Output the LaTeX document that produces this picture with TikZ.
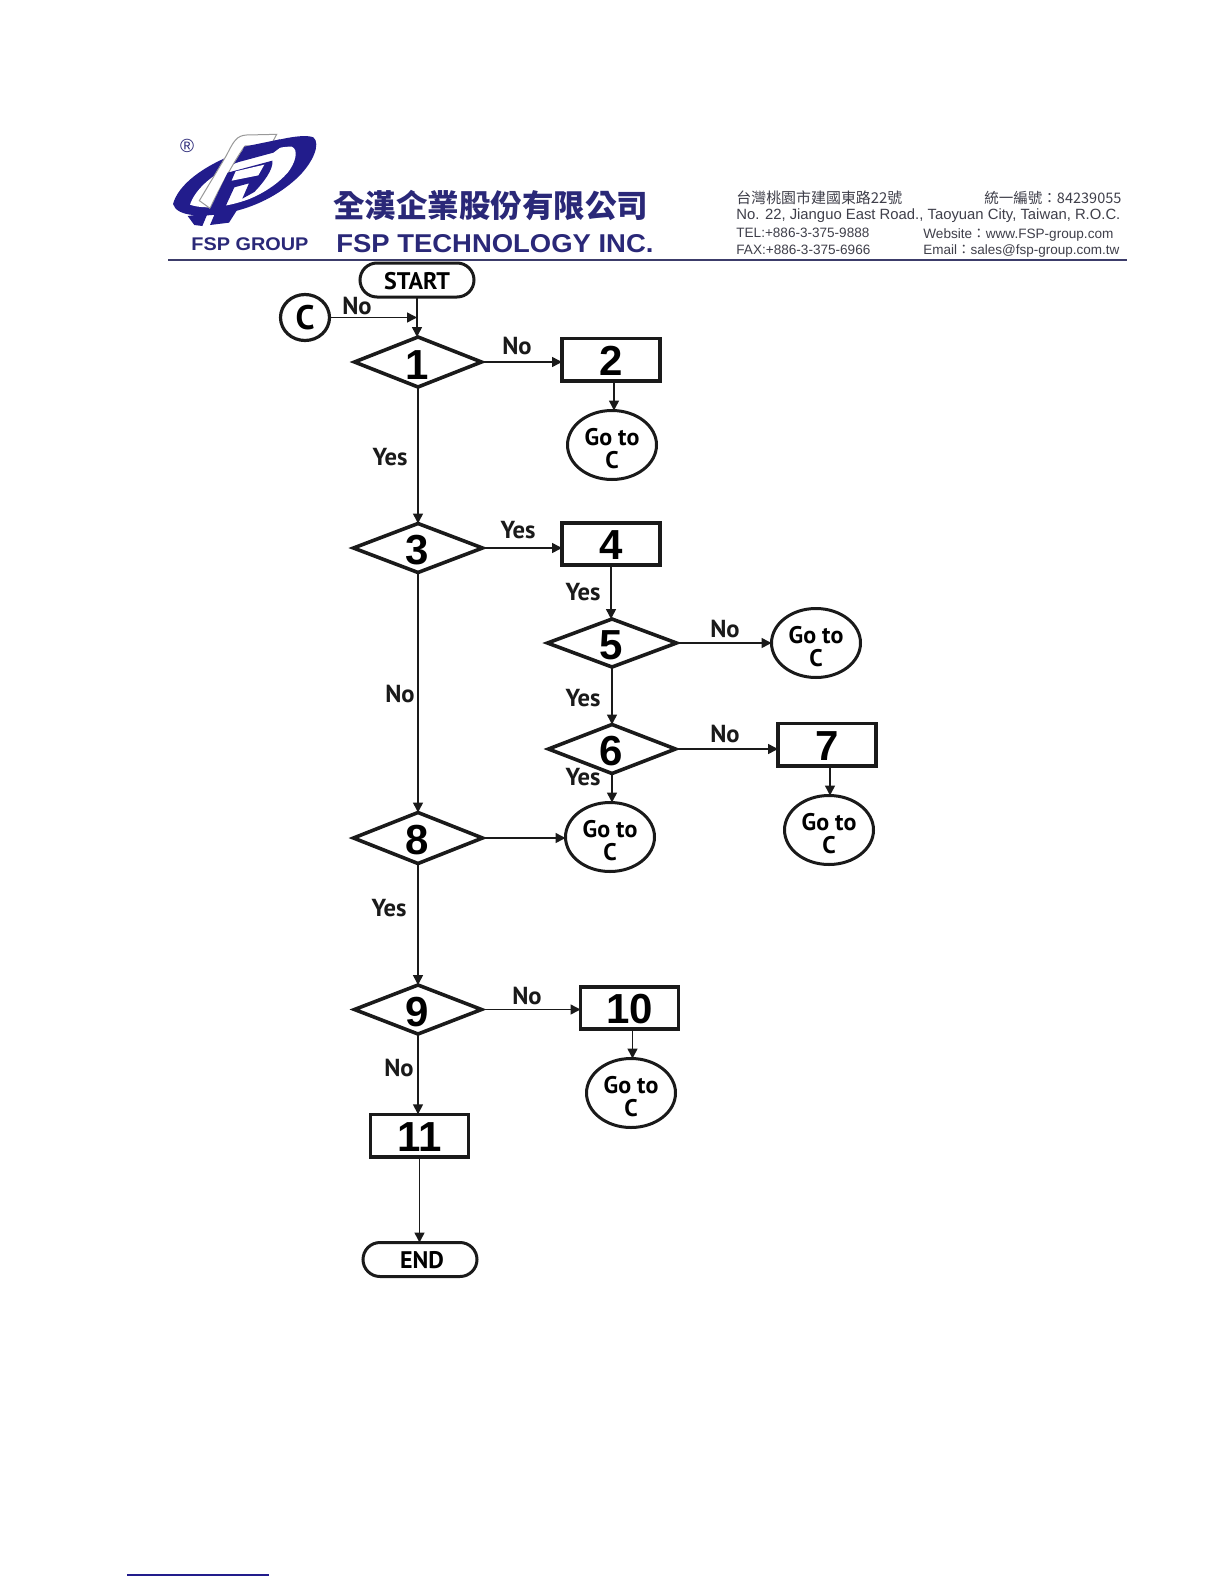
\documentclass[tikz,border=0pt]{standalone}
\usepackage{fontspec}
\usepackage{graphicx}
\setmainfont{Liberation Sans}
\newfontfamily\flowfont{PT Sans}
\newfontfamily\numfont{Liberation Sans}
\newfontfamily\cjkfont{Noto Sans CJK TC}
\usetikzlibrary{shapes.geometric,shapes.misc,arrows.meta,calc}
\definecolor{fspblue}{HTML}{221C8C}
\definecolor{fspnavy}{HTML}{2A2878}
\definecolor{addrgray}{HTML}{3F3F4A}
\definecolor{rulegray}{HTML}{3C3C6A}
\definecolor{inkblack}{HTML}{1A1A1A}
\newcommand{\gotoc}{\rule{0pt}{12.5pt}Go to\\C}
\tikzset{
  decisionbox/.style={diamond,draw=inkblack,line width=1.8pt,inner sep=0pt,outer sep=0pt,aspect=2.6,text height=17pt,font=\numfont\bfseries\fontsize{21}{21}\selectfont},
  procbox/.style={rectangle,draw=inkblack,line width=1.8pt,inner sep=0pt,outer sep=0pt,minimum width=49pt,minimum height=21.2pt,text height=15.8pt,font=\numfont\bfseries\fontsize{21}{21}\selectfont},
  gotobox/.style={ellipse,draw=inkblack,line width=1.5pt,inner sep=0pt,outer sep=0pt,minimum width=44.5pt,minimum height=34.5pt,align=center,font=\flowfont\bfseries\fontsize{12}{11.5}\selectfont},
  termbox/.style={rounded rectangle,draw=inkblack,line width=1.5pt,inner sep=0pt,outer sep=0pt,minimum width=57pt,minimum height=17pt,text height=9.5pt,font=\flowfont\bfseries\fontsize{12}{12}\selectfont},
  flowlabel/.style={inner sep=0pt,yshift=0.6pt,text=inkblack,font=\flowfont\bfseries\fontsize{12.3}{12.3}\selectfont},
  conn/.style={draw=inkblack,line width=0.75pt,-{Triangle[length=5pt,width=5pt]}},
  addr/.style={inner sep=0pt,text=addrgray,anchor=base west},
  brand/.style={inner sep=0pt,text=fspnavy,anchor=west},
}
\begin{document}
\begin{tikzpicture}[x=0.5pt,y=-0.5pt]
\useasboundingbox (0,0) rectangle (1224,1584);
\fill[white] (0,0) rectangle (1224,1584);

% logo, in crop coordinates
\begin{scope}[shift={(165,130)},x=0.16667pt,y=-0.16667pt]
  % swoosh
  \fill[fspblue] (24,222) .. controls (40,165) and (110,110) .. (215,70)
     .. controls (300,35) and (410,8) .. (445,22)
     .. controls (468,40) and (445,100) .. (392,148)
     .. controls (340,195) and (270,232) .. (190,248)
     .. controls (120,262) and (35,262) .. cycle;
  % inner opening
  \fill[white] (75,224) .. controls (90,180) and (135,140) .. (195,108)
     .. controls (255,78) and (335,48) .. (380,50)
     .. controls (402,58) and (392,98) .. (368,128)
     .. controls (338,162) and (295,190) .. (250,208)
     .. controls (190,230) and (120,240) .. cycle;
  % white ribbon with thin outline
  \filldraw[fill=white,draw=gray!80,line width=0.5pt] (103,212) -- (185,75)
     .. controls (205,35) and (215,16) .. (245,15) -- (335,13) -- (318,45) -- (240,48)
     .. controls (222,70) and (170,160) .. (135,235) -- cycle;
  % F and P
  \fill[fspblue] (238,50) -- (345,28) -- (354,46) -- (325,68) -- (214,98) -- cycle;
  \fill[fspblue] (188,128) -- (322,92)
     .. controls (326,118) and (295,158) .. (268,186)
     -- (232,206) -- (252,160) -- (208,172) -- (172,250) -- (135,238) -- cycle;
  \fill[white] (212,124) -- (298,104) -- (280,136) -- (200,152) -- cycle;
  % feet
  \fill[fspblue] (68,258) -- (128,250) -- (112,288) -- (88,285) -- cycle;
  \fill[fspblue] (150,250) -- (225,226) -- (192,278) -- (135,285) -- cycle;
\end{scope}
\node[inner sep=0pt,text=fspnavy,font=\fontsize{9.5}{9.5}\selectfont] (regmark) at (187,146) {®};
\node[brand] (grouptext) at (191,244) {\bfseries\resizebox{58.5pt}{6.4pt}{FSP GROUP}};
\node[brand] (cntext) at (333,206) {\resizebox{157.5pt}{!}{\cjkfont\bfseries 全漢企業股份有限公司}};
\node[brand] (entext) at (336,244) {\bfseries\resizebox{158.5pt}{9pt}{FSP TECHNOLOGY INC.}};

% address
\node[inner sep=0pt,text=addrgray,anchor=west] (addra) at (736,198) {\resizebox{83pt}{!}{\cjkfont 台灣桃園市建國東路22號}};
\node[inner sep=0pt,text=addrgray,anchor=west] (addrb) at (984,198) {\resizebox{68.5pt}{!}{\cjkfont 統一編號：84239055}};
\node[addr] (addrc) at (736,220) {\resizebox{192pt}{!}{No. 22, Jianguo East Road., Taoyuan City, Taiwan, R.O.C.}};
\node[addr] (addrd) at (736,237.5) {\resizebox{66.5pt}{!}{TEL:+886-3-375-9888}};
\node[addr] (addre) at (923,238) {\resizebox{95pt}{!}{Website{\cjkfont ：}www.FSP-group.com}};
\node[addr] (addrf) at (736,254) {\resizebox{67pt}{!}{FAX:+886-3-375-6966}};
\node[addr] (addrg) at (923,254) {\resizebox{98pt}{!}{Email{\cjkfont ：}sales@fsp-group.com.tw}};

\coordinate (rulea) at (168,259.5);
\coordinate (ruleb) at (1127,259.5);
\draw[rulegray,line width=1pt] (rulea) -- (ruleb);
\coordinate (foota) at (127,1575);
\coordinate (footb) at (269,1575);
\draw[fspblue,line width=0.7pt] (foota) -- (footb);

% flow nodes
\node[termbox] (start) at (417,280) {START};
\node[ellipse,draw=inkblack,line width=1.6pt,inner sep=0pt,outer sep=0pt,minimum width=24.5pt,minimum height=23pt,font=\flowfont\bfseries\fontsize{17}{17}\selectfont] (cnode) at (305,317.5) {C};
\node[decisionbox,minimum width=63.5pt,minimum height=25pt] (d1) at (418,362) {1\kern1pt};
\node[procbox] (b2) at (611,359.5) {2};
\node[gotobox] (g2) at (612,445) {\gotoc};
\node[decisionbox,minimum width=64.5pt,minimum height=24.5pt] (d3) at (418,548) {3\kern1pt};
\node[procbox] (b4) at (611,544) {4};
\node[decisionbox,minimum width=64.5pt,minimum height=24pt] (d5) at (612,643) {5\kern1pt};
\node[gotobox] (g5) at (816,643) {\gotoc};
\node[decisionbox,minimum width=63.5pt,minimum height=24.5pt] (d6) at (612,749) {6\kern1pt};
\node[procbox] (b7) at (827,744.5) {7};
\node[gotobox] (g7) at (829,830) {\gotoc};
\node[gotobox] (g6) at (610,837) {\gotoc};
\node[decisionbox,minimum width=64.5pt,minimum height=25.5pt] (d8) at (418,838) {8\kern1pt};
\node[decisionbox,minimum width=63.5pt,minimum height=24.5pt] (d9) at (418,1009.5) {9\kern1pt};
\node[procbox] (b10) at (629.5,1008) {10};
\node[gotobox] (g10) at (631,1093) {\gotoc};
\node[procbox] (b11) at (419.5,1135.5) {11};
\node[termbox] (endnode) at (420,1259.5) {\kern2pt END};

% connectors
\coordinate (junction) at (start.south |- cnode.east);
\draw[conn] (start.south) -- (start.south |- d1.north);
\draw[conn] (cnode.east) -- (junction);
\draw[conn] (d1.east) -- (d1.east -| b2.west);
\draw[conn] (d1.south) -- (d3.north);
\draw[conn] ([xshift=1.5pt]b2.south) -- ([xshift=1.5pt]b2.south |- g2.north);
\draw[conn] (d3.east) -- (d3.east -| b4.west);
\draw[conn] (d3.south) -- (d8.north);
\draw[conn] (b4.south) -- (b4.south |- d5.north);
\draw[conn] (d5.east) -- (g5.west);
\draw[conn] (d5.south) -- (d6.north);
\draw[conn] (d6.east) -- (d6.east -| b7.west);
\draw[conn] (d6.south) -- (d6.south |- g6.north);
\draw[conn] ([xshift=1.5pt]b7.south) -- ([xshift=1.5pt]b7.south |- g7.north);
\draw[conn] (d8.east) -- (d8.east -| g6.west);
\draw[conn] (d8.south) -- (d9.north);
\draw[conn] (d9.east) -- (d9.east -| b10.west);
\draw[conn] (d9.south) -- (d9.south |- b11.north);
\draw[conn] ([xshift=1.5pt]b10.south) -- ([xshift=1.5pt]b10.south |- g10.north);
\draw[conn] (b11.south) -- (b11.south |- endnode.north);

% labels
\node[flowlabel] (la) at (357,307) {No};
\node[flowlabel] (lb) at (517,347) {No};
\node[flowlabel] (lc) at (390,458) {Yes};
\node[flowlabel] (ld) at (518,531) {Yes};
\node[flowlabel] (le) at (583,593) {Yes};
\node[flowlabel] (lf) at (725,630) {No};
\node[flowlabel] (lg) at (583,699) {Yes};
\node[flowlabel] (lh) at (725,735) {No};
\node[flowlabel] (li) at (583,778) {Yes};
\node[flowlabel] (lj) at (400,695) {No};
\node[flowlabel] (lk) at (389,909) {Yes};
\node[flowlabel] (ll) at (527,997) {No};
\node[flowlabel] (lm) at (399,1069) {No};
\end{tikzpicture}
\end{document}
